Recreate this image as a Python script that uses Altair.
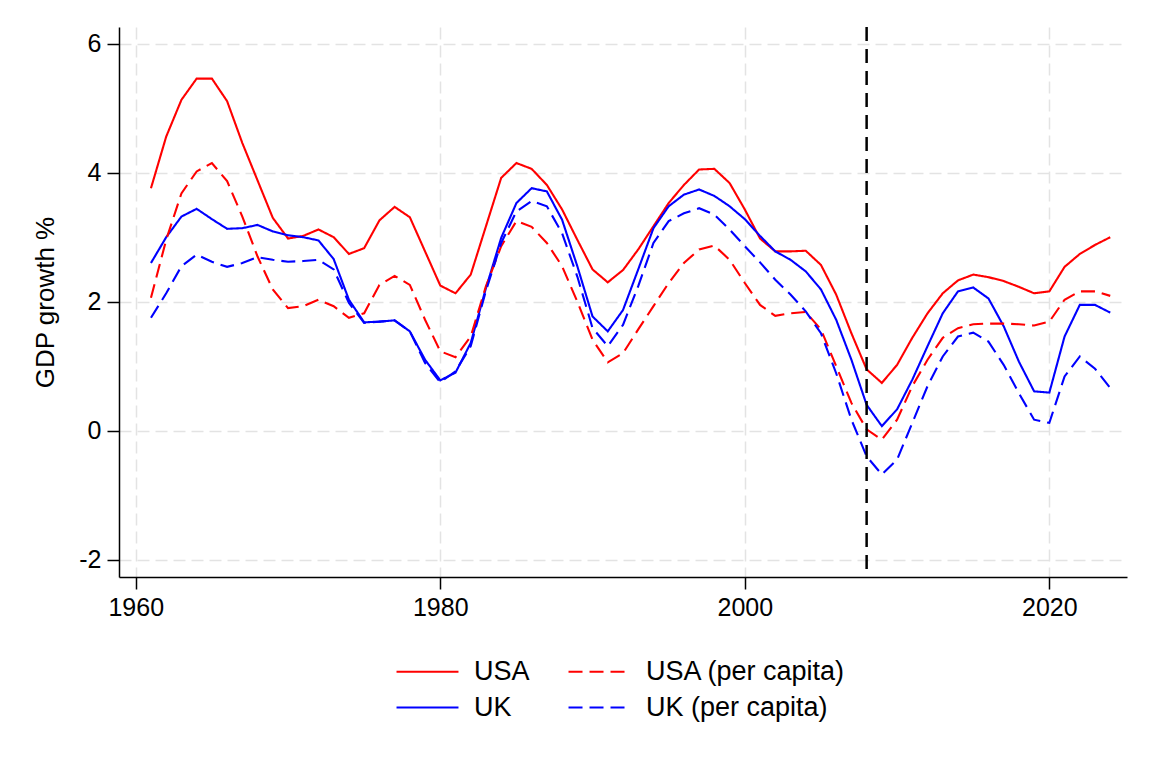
import altair as alt
import pandas as pd

years = list(range(1961, 2025))

usa = [3.76, 4.56, 5.13, 5.46, 5.46, 5.11, 4.46, 3.88, 3.30, 2.98,
       3.02, 3.12, 3.00, 2.74, 2.83, 3.26, 3.47, 3.31, 2.78, 2.25,
       2.13, 2.42, 3.17, 3.92, 4.15, 4.06, 3.81, 3.43, 2.96, 2.50,
       2.30, 2.49, 2.81, 3.17, 3.53, 3.81, 4.05, 4.06, 3.84, 3.43,
       2.98, 2.78, 2.78, 2.79, 2.57, 2.11, 1.51, 0.95, 0.74, 1.02,
       1.44, 1.82, 2.13, 2.33, 2.42, 2.38, 2.32, 2.23, 2.13, 2.16,
       2.54, 2.74, 2.88, 3.00]

usa_pc = [2.06, 2.96, 3.68, 4.02, 4.15, 3.87, 3.32, 2.70, 2.19, 1.90,
          1.93, 2.03, 1.93, 1.75, 1.82, 2.26, 2.40, 2.26, 1.72, 1.23,
          1.14, 1.46, 2.24, 2.86, 3.25, 3.16, 2.91, 2.55, 2.00, 1.41,
          1.06, 1.20, 1.57, 1.93, 2.29, 2.60, 2.81, 2.87, 2.65, 2.29,
          1.95, 1.78, 1.82, 1.84, 1.57, 1.00, 0.43, 0.02, -0.14, 0.17,
          0.69, 1.10, 1.44, 1.59, 1.65, 1.66, 1.66, 1.65, 1.63, 1.69,
          2.03, 2.16, 2.16, 2.09]

uk = [2.60, 3.00, 3.32, 3.44, 3.28, 3.13, 3.14, 3.19, 3.09, 3.03,
      3.00, 2.95, 2.66, 2.03, 1.68, 1.69, 1.71, 1.54, 1.10, 0.78,
      0.90, 1.36, 2.21, 2.99, 3.53, 3.76, 3.71, 3.27, 2.55, 1.77,
      1.54, 1.87, 2.50, 3.14, 3.48, 3.66, 3.74, 3.64, 3.48, 3.28,
      3.02, 2.78, 2.65, 2.47, 2.19, 1.72, 1.10, 0.40, 0.07, 0.33,
      0.79, 1.31, 1.82, 2.16, 2.22, 2.05, 1.62, 1.07, 0.61, 0.59,
      1.46, 1.95, 1.95, 1.83]

uk_pc = [1.75, 2.13, 2.55, 2.73, 2.62, 2.54, 2.60, 2.69, 2.65, 2.62,
         2.63, 2.65, 2.50, 1.98, 1.67, 1.69, 1.71, 1.54, 1.05, 0.75,
         0.92, 1.31, 2.17, 2.91, 3.40, 3.56, 3.48, 3.06, 2.39, 1.59,
         1.31, 1.64, 2.24, 2.91, 3.25, 3.37, 3.45, 3.35, 3.12, 2.86,
         2.61, 2.34, 2.11, 1.85, 1.51, 0.89, 0.17, -0.40, -0.68, -0.45,
         0.12, 0.69, 1.15, 1.46, 1.52, 1.38, 1.02, 0.58, 0.17, 0.12,
         0.84, 1.15, 0.96, 0.66]

# order chosen so the 2-column legend reads: USA | USA (per capita) / UK | UK (per capita)
series_names = ["USA", "UK", "USA (per capita)", "UK (per capita)"]
series_values = [usa, uk, usa_pc, uk_pc]
series_colors = ["#ff0000", "#0000ff", "#ff0000", "#0000ff"]
series_dashes = [[1, 0], [1, 0], [14, 7], [14, 7]]

crisis_year = [2008]
x_ticks = [1960, 1980, 2000, 2020]
y_ticks = [-2, 0, 2, 4, 6]

rows = []
for name, vals in zip(series_names, series_values):
    for yr, v in zip(years, vals):
        rows.append({"year": yr, "growth": v, "series": name})
df = pd.DataFrame(rows)
vline = pd.DataFrame({"year": crisis_year})

FONT = "Liberation Sans"

x_scale = alt.Scale(domain=[1958.9, 2025.1], nice=False, zero=False)
y_scale = alt.Scale(domain=[-2.27, 6.26], nice=False, zero=False)

lines = alt.Chart(df).mark_line(strokeWidth=2.1).encode(
    x=alt.X("year:Q", scale=x_scale,
            axis=alt.Axis(values=x_ticks, format="d", title=None, labelFlush=False)),
    y=alt.Y("growth:Q", scale=y_scale,
            axis=alt.Axis(values=y_ticks, title="GDP growth %",
                          labelExpr="toString(datum.value)")),
    color=alt.Color("series:N",
                    scale=alt.Scale(domain=series_names, range=series_colors),
                    legend=alt.Legend(
                        title=None, orient="none", legendX=295, legendY=631,
                        columns=2, symbolType="M-4,0H4", symbolSize=240,
                        symbolStrokeWidth=2.1, labelOffset=33, columnPadding=34,
                        rowPadding=8, labelFont=FONT, labelFontSize=27,
                        labelColor="black", labelLimit=500)),
    strokeDash=alt.StrokeDash("series:N",
                              scale=alt.Scale(domain=series_names, range=series_dashes)),
    detail="series:N",
)

rule = alt.Chart(vline).mark_rule(color="black", strokeDash=[14, 8], strokeWidth=2.5).encode(
    x=alt.X("year:Q", scale=x_scale)
)

chart = alt.layer(lines, rule).properties(
    width=1008, height=550,
    autosize=alt.AutoSizeParams(type="none"),
    padding={"left": 111, "top": 19, "right": 20, "bottom": 190},
).configure_view(stroke=None).configure_axis(
    labelFont=FONT, labelFontSize=25, labelColor="black",
    titleFont=FONT, titleFontSize=26, titleFontWeight="normal", titleColor="black",
    tickColor="black", tickSize=12, tickWidth=1.5,
    domainColor="black", domainWidth=1.5,
    gridColor="#e3e3e3", gridDash=[12, 6], gridWidth=1.5,
    labelPadding=6,
).configure_axisY(titlePadding=20)

chart.save("out.html", embed_options={"renderer": "svg", "actions": False})
